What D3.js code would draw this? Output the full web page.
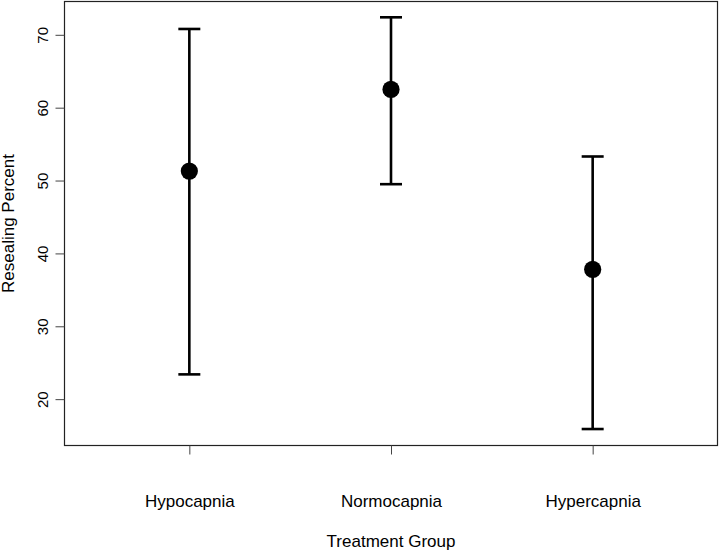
<!DOCTYPE html>
<html>
<meta charset="utf-8">
<head>
<style>
body { margin: 0; background: #fff; }
text { font-family: "Liberation Sans", Arial, sans-serif; fill: #000; }
</style>
</head>
<body>
<svg width="720" height="554"></svg>
<script src="https://cdn.jsdelivr.net/npm/d3@7"></script>
<script>

// data
var groups = ["Hypocapnia", "Normocapnia", "Hypercapnia"];
var means  = [51.3, 62.5, 37.8];
var lower  = [23.4, 49.5, 15.9];
var upper  = [70.8, 72.4, 53.3];
var yTicks = [20, 30, 40, 50, 60, 70];

var svg = d3.select("svg");

// plot box edges
var pL = 64.5, pR = 717.5, pT = 1.5, pB = 445.5;

var x = d3.scalePoint()
    .domain(groups)
    .range([pL, pR])
    .padding(0.619);

var y = d3.scaleLinear()
    .domain([13.64, 74.57])
    .range([pB, pT]);

// box
svg.append("rect")
    .attr("x", pL)
    .attr("y", pT)
    .attr("width", pR - pL)
    .attr("height", pB - pT)
    .attr("fill", "none")
    .attr("stroke", "#222")
    .attr("stroke-width", 1.2);

// y axis
var yAxis = svg.append("g")
    .attr("transform", "translate(" + pL + ",0)")
    .call(d3.axisLeft(y).tickValues(yTicks).tickSize(9).tickPadding(0).tickFormat(d3.format("d")));
yAxis.select(".domain").remove();
yAxis.selectAll("line").attr("stroke", "#444");
yAxis.selectAll("text")
    .attr("font-size", 15)
    .attr("fill", "#222")
    .attr("text-anchor", "middle")
    .attr("x", 0).attr("dy", 0)
    .attr("transform", "translate(-16.5,0) rotate(-90)");

// x axis
var xAxis = svg.append("g")
    .attr("transform", "translate(0," + pB + ")")
    .call(d3.axisBottom(x).tickSize(9).tickPadding(0));
xAxis.select(".domain").remove();
xAxis.selectAll("line").attr("stroke", "#444");
xAxis.selectAll("text")
    .attr("font-size", 17)
    .attr("fill", "#222")
    .attr("y", 61.5).attr("dy", 0);

// axis titles
svg.append("text")
    .attr("x", (pL + pR) / 2)
    .attr("y", 547)
    .attr("text-anchor", "middle")
    .attr("font-size", 17)
    .attr("fill", "#222")
    .text("Treatment Group");

svg.append("text")
    .attr("transform", "translate(14," + (pT + pB) / 2 + ") rotate(-90)")
    .attr("text-anchor", "middle")
    .attr("font-size", 17)
    .attr("fill", "#222")
    .text("Resealing Percent");

// error bars
var data = groups.map(function(g, i) {
  return { g: g, m: means[i], lo: lower[i], hi: upper[i] };
});

var bars = svg.append("g").selectAll("g")
    .data(data)
    .enter().append("g");

bars.append("line")
    .attr("x1", function(d) { return x(d.g); })
    .attr("x2", function(d) { return x(d.g); })
    .attr("y1", function(d) { return y(d.lo); })
    .attr("y2", function(d) { return y(d.hi); })
    .attr("stroke", "#000")
    .attr("stroke-width", 2.6);

bars.selectAll(".cap")
    .data(function(d) { return [[d.g, d.lo], [d.g, d.hi]]; })
    .enter().append("line")
    .attr("class", "cap")
    .attr("x1", function(d) { return x(d[0]) - 11; })
    .attr("x2", function(d) { return x(d[0]) + 11; })
    .attr("y1", function(d) { return y(d[1]); })
    .attr("y2", function(d) { return y(d[1]); })
    .attr("stroke", "#000")
    .attr("stroke-width", 2.6);

bars.append("circle")
    .attr("cx", function(d) { return x(d.g); })
    .attr("cy", function(d) { return y(d.m); })
    .attr("r", 8.6)
    .attr("fill", "#000");

</script>
</body>
</html>
